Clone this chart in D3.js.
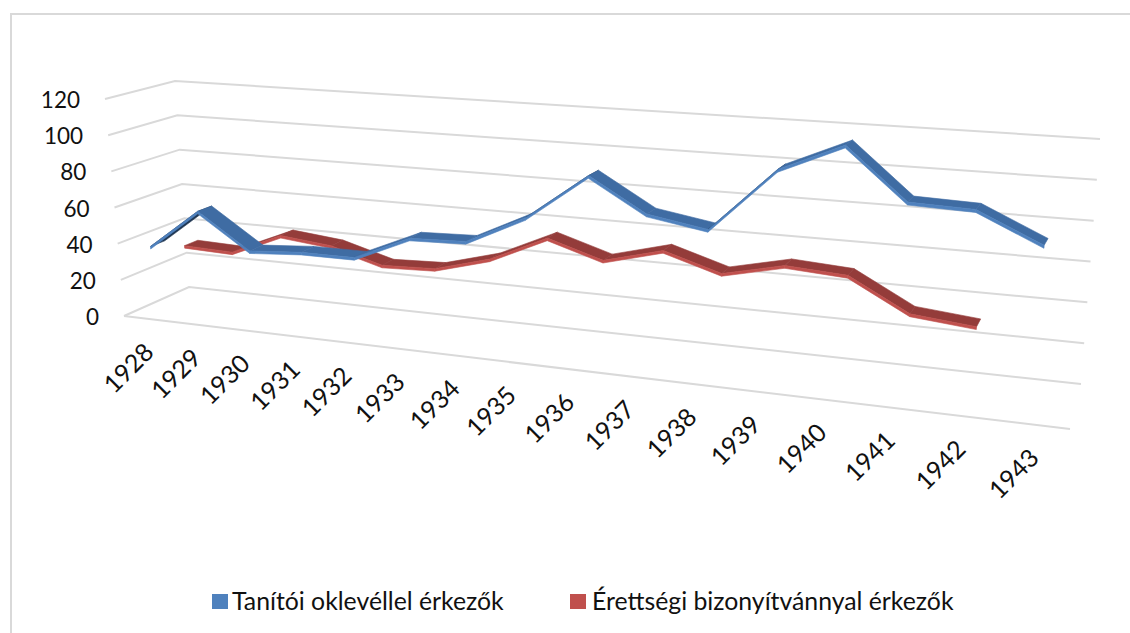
<!DOCTYPE html>
<html><head><meta charset="utf-8">
<script src="https://cdn.jsdelivr.net/npm/d3@7/dist/d3.min.js"></script>
<style>html,body{margin:0;background:#fff}svg{display:block}text{font-family:Lato,"Open Sans",sans-serif;fill:#111}</style>
</head><body><svg id="c" width="1130" height="633"></svg>
<script>
const categories=["1928","1929","1930","1931","1932","1933","1934","1935","1936","1937","1938","1939","1940","1941","1942","1943"];
const teacherValues=[38,60,41,43,43,56,57,72,96,79,74,106,120,95,94,80];
const graduateValues=[31,30,42,39,31,32,40,54,45,53,44,51,49,33,30];
const valueTicks=[0,20,40,60,80,100,120];
const seriesNames=["Tanítói oklevéllel érkezők","Érettségi bizonyítvánnyal érkezők"];

const svg=d3.select("#c");
// perspective box: floor and top planes as homographies of the unit square
function homography(A,B,C,D){
  const sx=A[0]-B[0]+C[0]-D[0],sy=A[1]-B[1]+C[1]-D[1];
  const dx1=B[0]-C[0],dy1=B[1]-C[1],dx2=D[0]-C[0],dy2=D[1]-C[1];
  const det=dx1*dy2-dx2*dy1;
  const g=(sx*dy2-dx2*sy)/det,h=(dx1*sy-sx*dy1)/det;
  const a=B[0]-A[0]+g*B[0],b=D[0]-A[0]+h*D[0],d=B[1]-A[1]+g*B[1],e=D[1]-A[1]+h*D[1];
  return (t,z)=>{const w=1+g*t+h*z;return [(A[0]+a*t+b*z)/w,(A[1]+d*t+e*z)/w];};
}
const floor=homography([124,316],[1070,429],[1081,384],[189,287]);
const top_=homography([105,99],[1082,164],[1100,139],[175,81]);
const vScale=d3.scaleLinear().domain([0,120]).range([0,1]);
const tScale=d3.scaleLinear().domain([0,categories.length]).range([0,1]);
function P(t,v,z){const a=floor(t,z),b=top_(t,z),k=vScale(v);return [a[0]+(b[0]-a[0])*k,a[1]+(b[1]-a[1])*k];}

// frame
svg.append("path").attr("d","M11,633V14H1130").attr("fill","none").attr("stroke","#d9d9d9").attr("stroke-width",2);

// gridlines
const gl=svg.append("g").attr("stroke","#d9d9d9").attr("stroke-width",2).attr("fill","none");
const line=d3.line();
valueTicks.forEach(v=>{
  gl.append("path").attr("d",line([P(0,v,0),P(0,v,1),P(1,v,1)]));
});
gl.append("path").attr("d",line([P(0,0,0),P(1,0,0)]));

// value labels
valueTicks.forEach(v=>{
  const p=P(0,v,0);
  svg.append("text").attr("x",p[0]-25).attr("y",p[1]+9).attr("text-anchor","end").attr("font-size",22.5).text(v);
});
// category labels
categories.forEach((c,i)=>{
  const p=P(tScale(i+0.5),0,0);
  svg.append("text").attr("transform",`translate(${p[0]+8},${p[1]+35}) rotate(-45)`).attr("text-anchor","end").attr("font-size",25).text(c);
});

function ribbon(vals,z0,z1,top,under,lip){
  const g=svg.append("g");
  const pts=vals.map((v,i)=>({f:P(tScale(i+.5),v,z0),b:P(tScale(i+.5),v,z1),l:P(tScale(i+.5),v-1.4,z0)}));
  for(let i=0;i<pts.length-1;i++){
    const q=[pts[i].f,pts[i+1].f,pts[i+1].b,pts[i].b];
    const up=d3.polygonArea(q)<0;
    g.append("path").attr("d",line(q)+"Z").attr("fill",up?under:top).attr("stroke",up?under:top).attr("stroke-width",.6);
  }
  for(let i=0;i<pts.length-1;i++){
    const q=[pts[i].f,pts[i+1].f,pts[i+1].l,pts[i].l];
    g.append("path").attr("d",line(q)+"Z").attr("fill",lip).attr("stroke",lip).attr("stroke-width",.6);
  }
}
ribbon(graduateValues,.62,.83,"#943c3a","#6b2423","#c0504d");
ribbon(teacherValues,.12,.33,"#3f6ca3","#1d3450","#4f81bd");

// legend
const lg=svg.append("g");
[[212,232,"#4f81bd"],[570,592,"#c0504d"]].forEach((d,i)=>{
  lg.append("rect").attr("x",d[0]).attr("y",594).attr("width",16).attr("height",15).attr("fill",d[2]);
  lg.append("text").attr("x",d[1]).attr("y",610).attr("font-size",24.8).text(seriesNames[i]);
});
</script></body></html>
